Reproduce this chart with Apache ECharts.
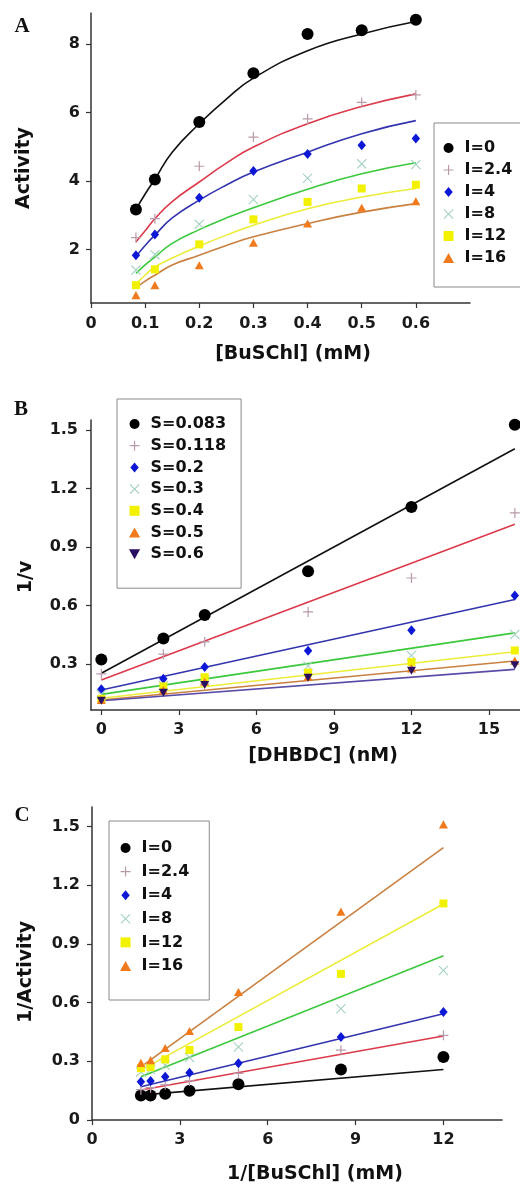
<!DOCTYPE html>
<html><head><meta charset="utf-8">
<script src="https://cdn.jsdelivr.net/npm/echarts@6/dist/echarts.min.js"></script>
<style>html,body{margin:0;padding:0;background:#fff}#c{width:520px;height:1188px}</style>
</head><body><div id="c"></div>
<script>
// ---------- Panel A : Activity vs [BuSChl] ----------
const A_S = [0.083, 0.118, 0.2, 0.3, 0.4, 0.5, 0.6];
const A_names = ['I=0', 'I=2.4', 'I=4', 'I=8', 'I=12', 'I=16'];
const A_I0   = [3.17, 4.04, 5.72, 7.14, 8.29, 8.40, 8.70];
const A_I2_4 = [2.35, 2.90, 4.43, 5.28, 5.81, 6.29, 6.51];
const A_I4   = [1.83, 2.44, 3.51, 4.29, 4.79, 5.04, 5.24];
const A_I8   = [1.40, 1.85, 2.74, 3.46, 4.08, 4.50, 4.48];
const A_I12  = [0.96, 1.42, 2.15, 2.88, 3.39, 3.78, 3.89];
const A_I16  = [0.67, 0.96, 1.54, 2.20, 2.76, 3.22, 3.41];
const A_fitX    = [0.083, 0.1, 0.118, 0.15, 0.2, 0.25, 0.3, 0.4, 0.5, 0.6];
const A_fitI0   = [3.17, 3.62, 4.05, 4.84, 5.67, 6.39, 7.00, 7.80, 8.29, 8.65];
const A_fitI2_4 = [2.22, 2.55, 2.90, 3.40, 3.97, 4.52, 4.99, 5.67, 6.17, 6.54];
const A_fitI4   = [1.80, 2.12, 2.42, 2.92, 3.44, 3.88, 4.26, 4.84, 5.38, 5.76];
const A_fitI8   = [1.30, 1.55, 1.78, 2.18, 2.58, 2.92, 3.22, 3.76, 4.21, 4.53];
const A_fitI12  = [1.00, 1.25, 1.49, 1.75, 2.10, 2.42, 2.71, 3.19, 3.53, 3.78];
const A_fitI16  = [0.88, 1.08, 1.25, 1.55, 1.83, 2.12, 2.37, 2.76, 3.09, 3.34];
const A_xTicks = [0, 0.1, 0.2, 0.3, 0.4, 0.5, 0.6];
const A_yTicks = [2, 4, 6, 8];

// ---------- Panel B : 1/v vs [DHBDC] ----------
const B_D = [0, 2.4, 4, 8, 12, 16];
const B_names = ['S=0.083', 'S=0.118', 'S=0.2', 'S=0.3', 'S=0.4', 'S=0.5', 'S=0.6'];
const B_S0_083 = [0.324, 0.431, 0.551, 0.776, 1.104, 1.526];
const B_S0_118 = [0.250, 0.351, 0.414, 0.567, 0.741, 1.074];
const B_S0_2   = [0.171, 0.225, 0.285, 0.368, 0.474, 0.651];
const B_S0_3   = [0.145, 0.190, 0.220, 0.290, 0.344, 0.452];
const B_S0_4   = [0.122, 0.186, 0.233, 0.256, 0.310, 0.370];
const B_S0_5   = [0.116, 0.167, 0.210, 0.235, 0.278, 0.318];
const B_S0_6   = [0.112, 0.153, 0.193, 0.230, 0.266, 0.294];
const B_fitX = [0, 16];
const B_fitS0_083 = [0.253, 1.403];
const B_fitS0_118 = [0.218, 1.016];
const B_fitS0_2   = [0.167, 0.631];
const B_fitS0_3   = [0.145, 0.460];
const B_fitS0_4   = [0.125, 0.363];
const B_fitS0_5   = [0.116, 0.316];
const B_fitS0_6   = [0.112, 0.273];
const B_xTicks = [0, 3, 6, 9, 12, 15];
const B_yTicks = [0.3, 0.6, 0.9, 1.2, 1.5];

// ---------- Panel C : 1/Activity vs 1/[BuSChl] ----------
const C_X = [1.67, 2, 2.5, 3.33, 5, 8.5, 12];
const C_names = ['I=0', 'I=2.4', 'I=4', 'I=8', 'I=12', 'I=16'];
const C_I0   = [0.125, 0.125, 0.134, 0.150, 0.183, 0.258, 0.322];
const C_I2_4 = [0.155, 0.165, 0.180, 0.200, 0.238, 0.357, 0.433];
const C_I4   = [0.195, 0.200, 0.221, 0.242, 0.290, 0.424, 0.552];
const C_I8   = [0.246, 0.258, 0.280, 0.320, 0.373, 0.569, 0.764];
const C_I12  = [0.265, 0.270, 0.310, 0.358, 0.475, 0.747, 1.107];
const C_I16  = [0.292, 0.306, 0.368, 0.455, 0.654, 1.065, 1.511];
const C_fitX = [1.67, 12];
const C_fitI0   = [0.127, 0.258];
const C_fitI2_4 = [0.153, 0.429];
const C_fitI4   = [0.170, 0.543];
const C_fitI8   = [0.221, 0.840];
const C_fitI12  = [0.255, 1.104];
const C_fitI16  = [0.272, 1.392];
const C_xTicks = [0, 3, 6, 9, 12];
const C_yTicks = [0, 0.3, 0.6, 0.9, 1.2, 1.5];

// ---------- styles ----------
const SYM_PLUS = 'path://M-0.6,-5H0.6V-0.6H5V0.6H0.6V5H-0.6V0.6H-5V-0.6H-0.6Z';
const SYM_X = 'path://M-5,-4.2L-4.2,-5L0,-0.8L4.2,-5L5,-4.2L0.8,0L5,4.2L4.2,5L0,0.8L-4.2,5L-5,4.2L-0.8,0Z';
const SYM_DIAMOND = 'path://M0,-5L4.2,0L0,5L-4.2,0Z';
const SYM_RECT = 'path://M-5,-5H5V5H-5Z';
const SYM_TRI = 'path://M0,-5L5,4L-5,4Z';
const SYM_TRI_DOWN = 'path://M-5,-4L5,-4L0,5Z';
const STY = [
  {symbol: 'circle', size: 12, color: '#000000', line: '#111111'},
  {symbol: SYM_PLUS, size: 10, color: '#b99aaa', line: '#dc3a4a'},
  {symbol: SYM_DIAMOND, size: 10, color: '#0c18d6', line: '#3434ae'},
  {symbol: SYM_X, size: 10, color: '#a6d2c2', line: '#3cc83c'},
  {symbol: SYM_RECT, size: 8, color: '#f2f200', line: '#ecec3a'},
  {symbol: SYM_TRI, size: 9, color: '#f07a1c', line: '#c98040'},
  {symbol: SYM_TRI_DOWN, size: 9, color: '#2a1060', line: '#5a4aa8'}
];
const FONT = 'DejaVu Sans';
const AX = '#333333';

function pts(xs, ys) { return xs.map((x, i) => [x, ys[i]]); }

const series = [];
function addPanel(idx, names, xs, ysList, fitX, fitList, smooth) {
  names.forEach((n, i) => {
    const s = STY[i];
    series.push({
      type: 'line', name: 'fit ' + idx + ' ' + n, xAxisIndex: idx, yAxisIndex: idx,
      data: pts(fitX, fitList[i]), showSymbol: false, smooth: smooth ? 0.5 : false,
      lineStyle: {color: s.line, width: 1.6}, silent: true, z: 2
    });
  });
  names.forEach((n, i) => {
    const s = STY[i];
    series.push({
      type: 'scatter', name: n, xAxisIndex: idx, yAxisIndex: idx,
      data: pts(xs, ysList[i]), symbol: s.symbol, symbolSize: s.size, symbolKeepAspect: true,
      itemStyle: {color: s.color, opacity: 1}, z: 3
    });
  });
}
addPanel(0, A_names, A_S, [A_I0, A_I2_4, A_I4, A_I8, A_I12, A_I16], A_fitX,
  [A_fitI0, A_fitI2_4, A_fitI4, A_fitI8, A_fitI12, A_fitI16], true);
addPanel(1, B_names, B_D, [B_S0_083, B_S0_118, B_S0_2, B_S0_3, B_S0_4, B_S0_5, B_S0_6], B_fitX,
  [B_fitS0_083, B_fitS0_118, B_fitS0_2, B_fitS0_3, B_fitS0_4, B_fitS0_5, B_fitS0_6], false);
addPanel(2, C_names, C_X, [C_I0, C_I2_4, C_I4, C_I8, C_I12, C_I16], C_fitX,
  [C_fitI0, C_fitI2_4, C_fitI4, C_fitI8, C_fitI12, C_fitI16], false);

function axis(opts, ticks, margin) {
  return Object.assign({
    type: 'value', splitLine: {show: false},
    axisLine: {show: true, onZero: false, lineStyle: {color: AX, width: 1.5}},
    axisTick: {show: true, length: 5, customValues: ticks, lineStyle: {color: AX, width: 1.2}},
    axisLabel: {customValues: ticks, margin: margin, fontFamily: FONT, fontWeight: 'bold', fontSize: 16, color: '#1a1a1a'}
  }, opts);
}

const legendText = {fontFamily: FONT, fontWeight: 'bold', fontSize: 16, color: '#111'};
function legend(data, left, top, padding, gap) {
  return {
    data: data, orient: 'vertical', left: left, top: top, padding: padding,
    itemWidth: 22, itemHeight: 10, itemGap: gap, symbolKeepAspect: true,
    borderColor: '#8a8a8a', borderWidth: 1,
    selectedMode: false, textStyle: legendText
  };
}

function txt(text, x, y, font, rot) {
  return {type: 'text', x: x, y: y, rotation: rot || 0,
    style: {text: text, font: font, fill: '#111', align: 'center', verticalAlign: 'middle'}};
}
const TITLE = 'bold 19px "DejaVu Sans"';
const LETTER = 'bold 21px "Liberation Serif"';

const option = {
  animation: false,
  backgroundColor: '#ffffff',
  grid: [
    {left: 91, top: 13, width: 379, height: 290},
    {left: 91, top: 420, width: 429, height: 290},
    {left: 92, top: 807, width: 410, height: 313}
  ],
  xAxis: [
    axis({gridIndex: 0, min: 0, max: 0.7}, A_xTicks, 13),
    axis({gridIndex: 1, min: -0.4, max: 16.2}, B_xTicks, 12),
    axis({gridIndex: 2, min: 0, max: 14}, C_xTicks, 12)
  ],
  yAxis: [
    axis({gridIndex: 0, min: 0.44, max: 8.9}, A_yTicks, 11),
    axis({gridIndex: 1, min: 0.065, max: 1.55}, B_yTicks, 13),
    axis({gridIndex: 2, min: 0, max: 1.6}, C_yTicks, 12)
  ],
  legend: [
    legend(A_names, 434, 123, [17, 10, 21, 9], 6),
    legend(B_names, 117, 399, [17, 15, 26, 12], 5.7),
    legend(C_names, 109, 821, [19, 20, 26, 11], 7.6)
  ],
  graphic: [
    txt('A', 22, 27, LETTER),
    txt('B', 21, 410, LETTER),
    txt('C', 22, 816, LETTER),
    txt('Activity', 24, 168, TITLE, Math.PI / 2),
    txt('[BuSChl] (mM)', 293, 354, TITLE),
    txt('1/v', 26, 577, TITLE, Math.PI / 2),
    txt('[DHBDC] (nM)', 323, 756, TITLE),
    txt('1/Activity', 26, 972, TITLE, Math.PI / 2),
    txt('1/[BuSChl] (mM)', 315, 1174, TITLE)
  ],
  series: series
};

const chart = echarts.init(document.getElementById('c'), null, {renderer: 'canvas'});
chart.setOption(option);
</script></body></html>
